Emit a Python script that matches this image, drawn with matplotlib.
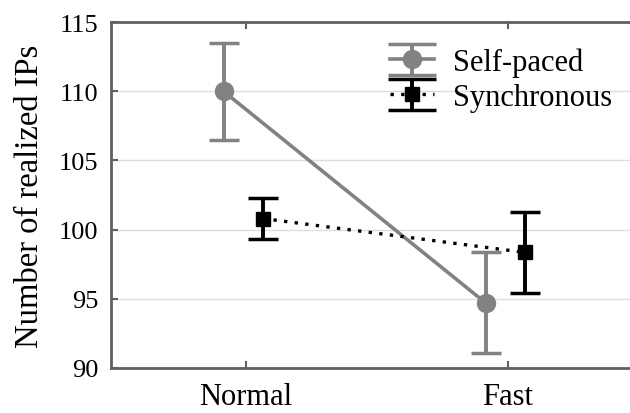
#!/usr/bin/env python3
# plot.py

import numpy as np
import matplotlib
matplotlib.use("Agg")
import matplotlib.pyplot as plt
from matplotlib.lines import Line2D

plt.rcParams["font.family"] = ["Liberation Serif", "DejaVu Serif"]

FONT = "Liberation Serif"

conditions = ["Normal", "Fast"]
self_paced = [110.0, 94.7]
self_paced_err = [3.5, 3.65]
synchronous = [100.8, 98.35]
synchronous_err = [1.5, 2.95]


def plot(ax):
    x = np.arange(len(conditions))

    ax.errorbar(x - 0.085, self_paced, yerr=self_paced_err, fmt="o-",
                color="#828282", lw=2.6, elinewidth=2.8, capsize=10.5,
                capthick=2.5, markersize=13, label="Self-paced", zorder=3)
    ax.errorbar(x + 0.065, synchronous, yerr=synchronous_err, fmt="s",
                linestyle=(0, (1, 2.2)), color="black", lw=2.4,
                elinewidth=2.8, capsize=10.5, capthick=2.5, markersize=10,
                label="Synchronous", zorder=4)

    ax.set_xlim(-0.515, 1.466)
    ax.set_ylim(90, 115)
    yt = np.arange(90, 116, 5)
    ax.set_yticks(yt)
    ax.set_yticklabels([str(v) for v in yt], family=FONT, fontsize=19)
    ax.set_xticks(x)
    ax.set_xticklabels(conditions, family=FONT, fontsize=22)
    ax.set_ylabel("Number of realized IPs", family=FONT, fontsize=23.5,
                  labelpad=10)

    ax.grid(axis="y", color="#dddddd", lw=1)
    ax.set_axisbelow(True)

    for side in ["left", "top", "bottom"]:
        ax.spines[side].set_color("#606060")
        ax.spines[side].set_linewidth(2)
    ax.spines["right"].set_visible(False)
    ax.tick_params(direction="in", length=5, width=1.5, color="#606060",
                   top=True, right=False)
    ax.tick_params(axis="y", pad=9)
    ax.tick_params(axis="x", pad=10)

    leg = ax.legend(loc="upper right", bbox_to_anchor=(1.0, 0.98),
                    frameon=False, prop={"family": FONT, "size": 22},
                    handlelength=1.45, labelspacing=0.2, handletextpad=0.6,
                    borderaxespad=0.2)
    # wider caps in the legend handles
    for ln in leg.findobj(Line2D):
        if ln.get_marker() == "_":
            ln.set_markersize(34)


def main():
    fig = plt.figure(figsize=(6.3, 4.14), dpi=100)
    ax = fig.add_axes([0.176, 0.109, 0.824, 0.835])
    plot(ax)
    fig.savefig("out.png", dpi=100)


if __name__ == "__main__":
    main()
